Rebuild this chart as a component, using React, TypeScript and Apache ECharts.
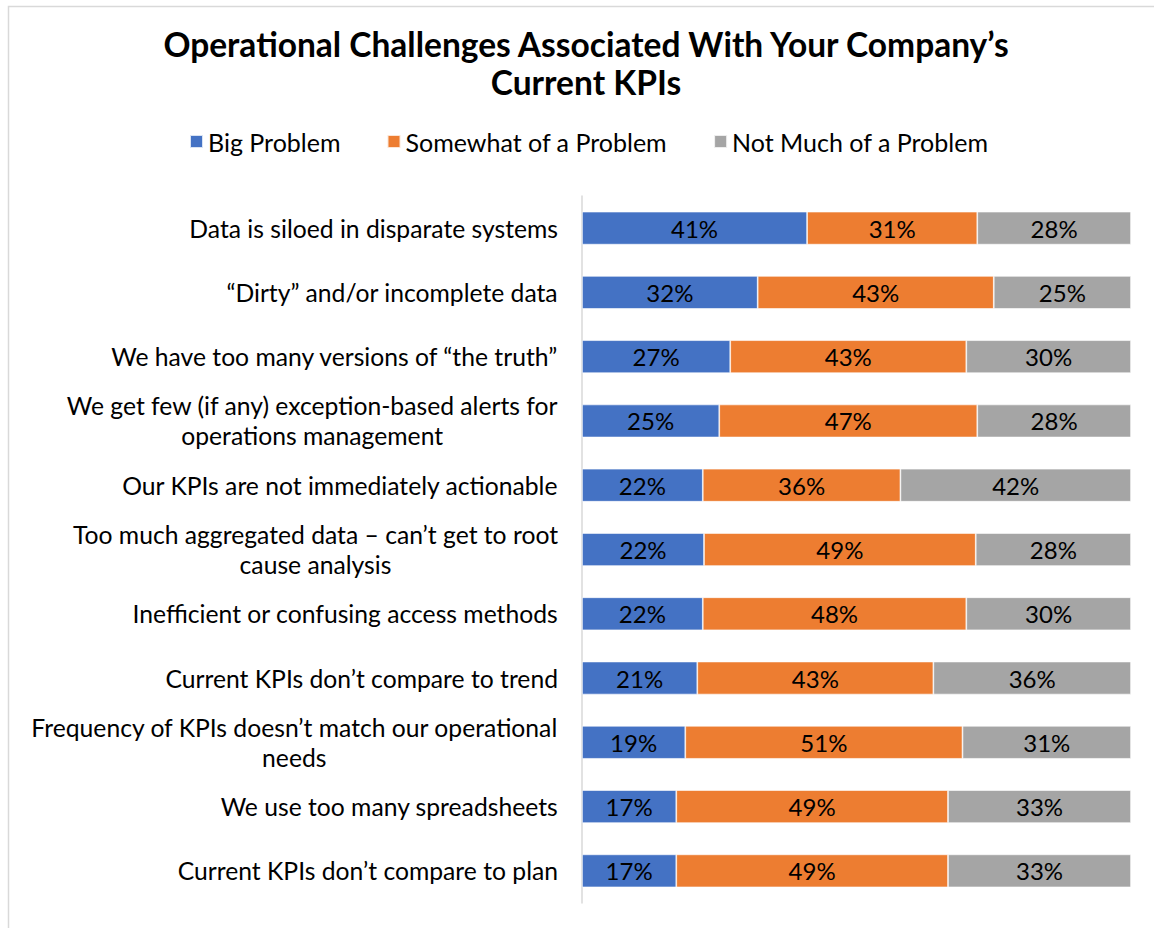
import React, { useEffect, useRef } from "react";
import * as echarts from "echarts";

const categories = [
  "Data is siloed in disparate systems",
  "“Dirty” and/or incomplete data",
  "We have too many versions of “the truth”",
  "We get few (if any) exception-based alerts for\noperations management",
  "Our KPIs are not immediately actionable",
  "Too much aggregated data – can’t get to root\ncause analysis",
  "Inefficient or confusing access methods",
  "Current KPIs don’t compare to trend",
  "Frequency of KPIs doesn’t match our operational\nneeds",
  "We use too many spreadsheets",
  "Current KPIs don’t compare to plan",
];

const bigProblem = [41, 32, 27, 25, 22, 22, 22, 21, 19, 17, 17];
const somewhatProblem = [31, 43, 43, 47, 36, 49, 48, 43, 51, 49, 49];
const notMuchProblem = [28, 25, 30, 28, 42, 28, 30, 36, 31, 33, 33];

const seriesNames = ["Big Problem", "Somewhat of a Problem", "Not Much of a Problem"];
const seriesColors = ["#4472C4", "#ED7D31", "#A5A5A5"];

const FONT = "Lato";

export default function App() {
  const ref = useRef<HTMLDivElement>(null);

  useEffect(() => {
    if (!ref.current) return;
    const chart = echarts.init(ref.current, null, { renderer: "svg" });
    const raw = [bigProblem, somewhatProblem, notMuchProblem];
    const totals = categories.map((_, i) => raw.reduce((s, arr) => s + arr[i], 0));

    const series = raw.map((arr, si) => ({
      name: seriesNames[si],
      type: "bar",
      stack: "total",
      barWidth: 33,
      data: arr.map((v, i) => (v / totals[i]) * 100),
      itemStyle: { color: seriesColors[si], borderColor: "rgba(255,255,255,0.8)", borderWidth: 0.75 },
      label: {
        show: true,
        position: "inside",
        formatter: (p: any) => `${arr[p.dataIndex]}%`,
        fontFamily: FONT,
        fontSize: 24,
        color: "#000",
      },
      emphasis: { disabled: true },
    }));

    chart.setOption({
      animation: false,
      backgroundColor: "#fff",
      title: {
        text: "Operational Challenges Associated With Your Company’s\nCurrent KPIs",
        left: 581,
        top: 20,
        textAlign: "center",
        textStyle: {
          fontFamily: FONT,
          fontWeight: "bold",
          fontSize: 33.5,
          lineHeight: 38,
          color: "#000",
        },
      },
      legend: {
        data: seriesNames,
        left: 184,
        top: 124,
        itemWidth: 13,
        itemHeight: 13,
        itemGap: 46,
        icon: "rect",
        selectedMode: false,
        textStyle: { fontFamily: FONT, fontSize: 25, color: "#000" },
      },
      grid: { left: 582, right: 23, top: 196, bottom: 25, containLabel: false },
      xAxis: {
        type: "value",
        min: 0,
        max: 100,
        show: false,
      },
      yAxis: {
        type: "category",
        inverse: true,
        data: categories,
        axisLine: { show: true, lineStyle: { color: "#d9d9d9", width: 1.5 } },
        axisTick: { show: false },
        splitLine: { show: false },
        axisLabel: {
          margin: 24,
          align: "right",
          fontFamily: FONT,
          fontSize: 24.7,
          color: "#000",
          lineHeight: 30,
          formatter: (v: string) =>
            v
              .split("\n")
              .map((l) => `{c|${l}}`)
              .join("\n"),
          rich: {
            c: { align: "center", fontFamily: FONT, fontSize: 24.7, color: "#000", lineHeight: 30 },
          },
        },
      },
      graphic: [
        {
          type: "rect",
          shape: { x: 8.5, y: 6.5, width: 1200, height: 1000 },
          style: { fill: "none", stroke: "#d9d9d9", lineWidth: 1.5 },
          silent: true,
          z: -1,
        },
      ],
      series,
    });

    return () => chart.dispose();
  }, []);

  return (
    <div
      ref={ref}
      style={{ position: "absolute", left: 0, top: 0, width: 1154, height: 928 }}
    />
  );
}
